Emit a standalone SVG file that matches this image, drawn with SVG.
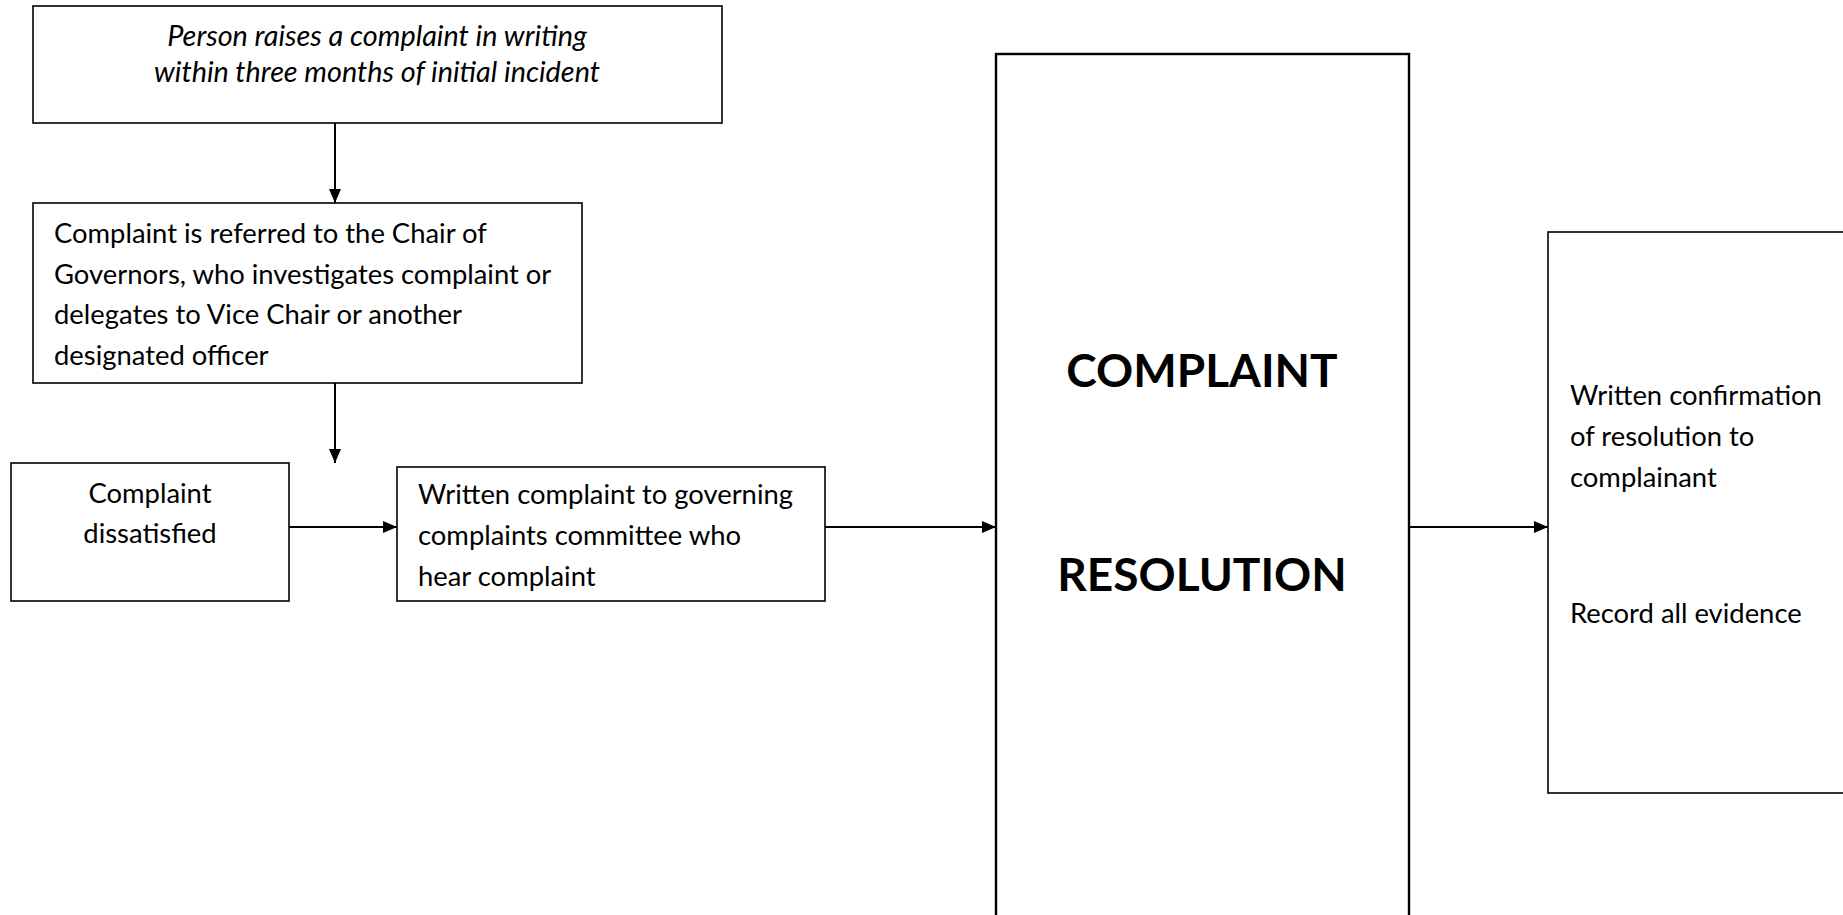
<svg xmlns="http://www.w3.org/2000/svg" width="1843" height="915" viewBox="0 0 1843 915">
<defs>
<style>
.box{fill:#fff;stroke:#000;stroke-width:1.6}
.big{fill:#fff;stroke:#000;stroke-width:2.4}
.t{font-family:Lato,"Liberation Sans",sans-serif;font-size:27.4px;fill:#000}
.it{font-style:italic;font-size:28.8px}
.c{text-anchor:middle}
.b{font-family:Lato,"Liberation Sans",sans-serif;font-weight:bold;font-size:46px;fill:#000;text-anchor:middle}
.ln{stroke:#000;stroke-width:2;fill:none}
</style>
<marker id="ah" markerUnits="userSpaceOnUse" markerWidth="14" markerHeight="14" viewBox="0 0 14 14" refX="14" refY="7" orient="auto">
<path d="M0,1 L14,7 L0,13 Z" fill="#000"/>
</marker>
</defs>
<rect width="1843" height="915" fill="#fff"/>
<g id="n1">
<rect class="box" x="33" y="6" width="689" height="117"/>
<text class="t it c" x="377" y="46">Person raises a complaint in writing</text>
<text class="t it c" x="377" y="82">within three months of initial incident</text>
</g>
<g id="n2">
<rect class="box" x="33" y="203" width="549" height="180"/>
<text class="t" x="54" y="243">Complaint is referred to the Chair of</text>
<text class="t" x="54" y="284">Governors, who investigates complaint or</text>
<text class="t" x="54" y="324">delegates to Vice Chair or another</text>
<text class="t" x="54" y="365">designated officer</text>
</g>
<g id="n3">
<rect class="box" x="11" y="463" width="278" height="138"/>
<text class="t c" x="150" y="503">Complaint</text>
<text class="t c" x="150" y="543">dissatisfied</text>
</g>
<g id="n4">
<rect class="box" x="397" y="467" width="428" height="134"/>
<text class="t" x="418" y="504">Written complaint to governing</text>
<text class="t" x="418" y="545">complaints committee who</text>
<text class="t" x="418" y="586">hear complaint</text>
</g>
<g id="n5">
<rect class="big" x="996" y="54" width="413" height="880"/>
<text class="b" x="1202" y="387">COMPLAINT</text>
<text class="b" x="1202" y="591">RESOLUTION</text>
</g>
<g id="n6">
<rect class="box" x="1548" y="232" width="320" height="561"/>
<text class="t" x="1570" y="405">Written confirmation</text>
<text class="t" x="1570" y="446">of resolution to</text>
<text class="t" x="1570" y="487">complainant</text>
<text class="t" x="1570" y="623">Record all evidence</text>
</g>
<g id="connectors">
<line class="ln" x1="335" y1="123" x2="335" y2="203" marker-end="url(#ah)"/>
<line class="ln" x1="335" y1="383" x2="335" y2="463" marker-end="url(#ah)"/>
<line class="ln" x1="289" y1="527" x2="397" y2="527" marker-end="url(#ah)"/>
<line class="ln" x1="825" y1="527" x2="996" y2="527" marker-end="url(#ah)"/>
<line class="ln" x1="1409" y1="527" x2="1548" y2="527" marker-end="url(#ah)"/>
</g>
</svg>
